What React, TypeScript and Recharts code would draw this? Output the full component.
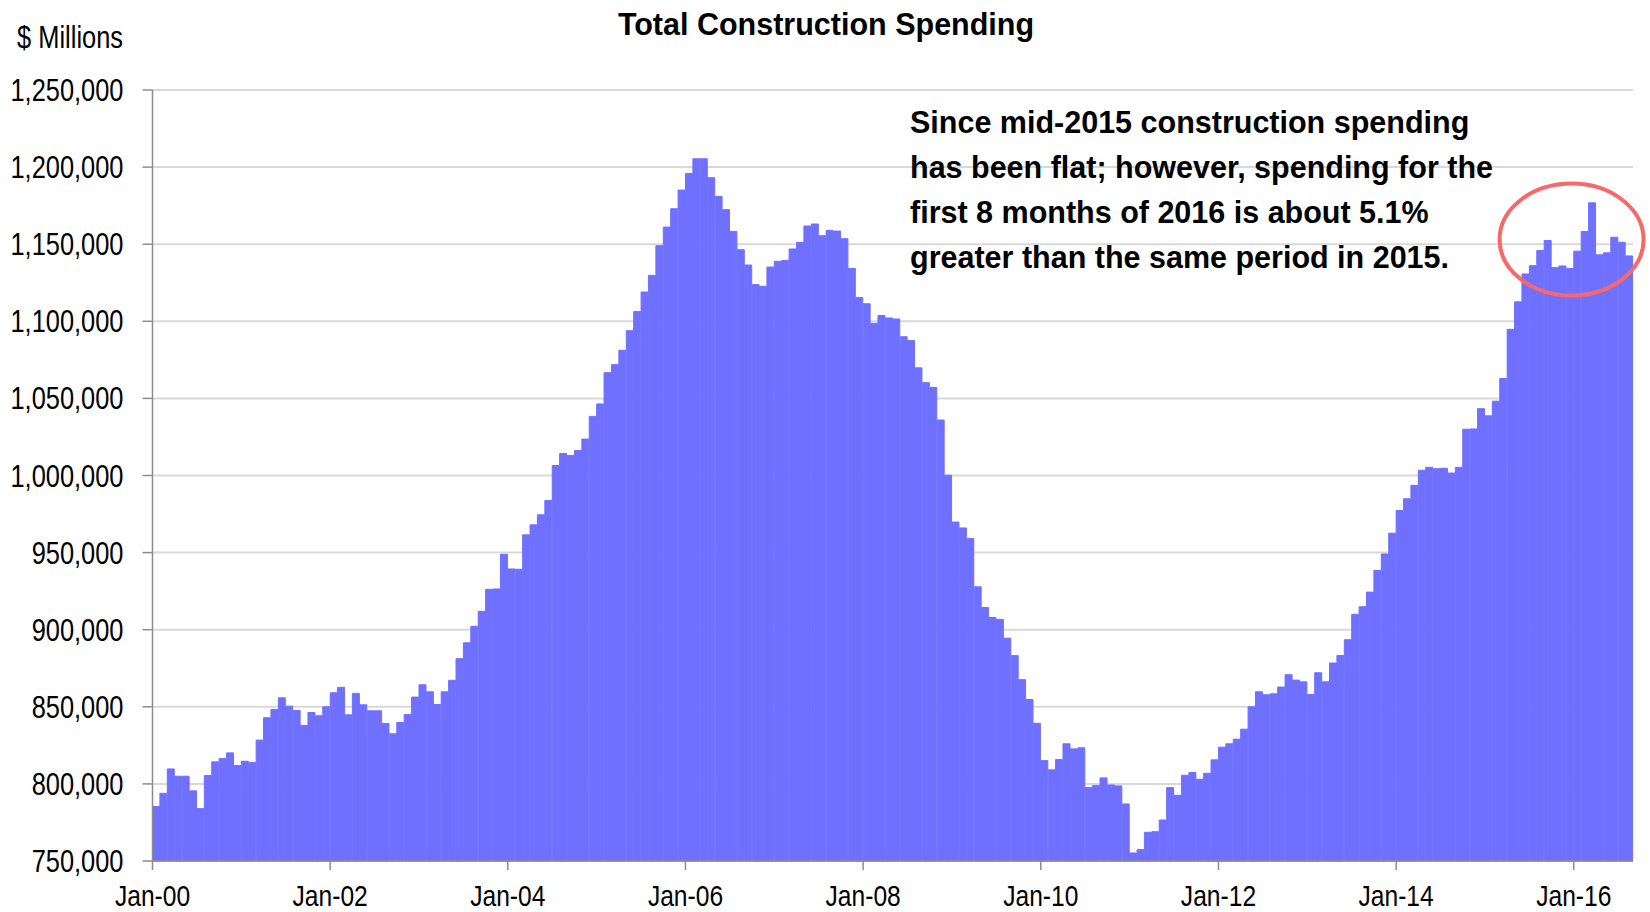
import { BarChart, Bar, XAxis, YAxis, CartesianGrid, ReferenceDot } from "recharts"

// monthly total construction spending, $ millions (SAAR), Jan-2000 .. Aug-2016
const SPENDING_2000 = [785300, 793900, 809700, 805000, 805000, 795500, 784000, 805400, 814300, 816400, 820100, 811900]
const SPENDING_2001 = [814700, 813900, 828400, 842900, 848300, 855800, 850400, 847600, 837900, 846300, 844200, 850000]
const SPENDING_2002 = [859100, 862600, 844800, 858700, 851300, 847400, 847400, 839200, 832500, 839800, 845000, 856300]
const SPENDING_2003 = [864300, 859700, 851500, 859700, 867200, 881200, 891500, 902200, 911900, 926200, 926400, 948900]
const SPENDING_2004 = [939400, 939200, 961500, 968000, 974500, 983800, 1006500, 1014300, 1013000, 1016200, 1023600, 1038300]
const SPENDING_2005 = [1046400, 1066700, 1071900, 1081200, 1093900, 1106300, 1119000, 1129800, 1149000, 1161100, 1173000, 1185100]
const SPENDING_2006 = [1195900, 1205400, 1205400, 1193100, 1181000, 1172400, 1158300, 1146400, 1136500, 1123800, 1122700, 1135200]
const SPENDING_2007 = [1138900, 1139500, 1146900, 1151200, 1161800, 1163100, 1155500, 1159000, 1158500, 1153600, 1134300, 1115500]
const SPENDING_2008 = [1111400, 1098700, 1103700, 1102200, 1101500, 1090000, 1087500, 1069800, 1060200, 1057100, 1036000, 1000200]
const SPENDING_2009 = [969800, 966000, 959200, 927800, 914400, 907900, 906700, 894500, 883200, 867600, 854700, 839300]
const SPENDING_2010 = [815100, 809100, 815800, 826000, 822700, 823400, 797600, 798900, 803900, 799300, 798700, 787000]
const SPENDING_2011 = [755200, 757400, 768600, 769000, 776600, 797600, 792600, 805600, 807400, 803000, 806900, 815600]
const SPENDING_2012 = [823800, 826000, 829000, 835500, 850000, 859700, 857800, 858400, 862800, 870800, 867300, 866200]
const SPENDING_2013 = [858000, 872100, 866200, 878400, 883300, 893500, 910000, 914900, 924400, 938500, 949100, 962600]
const SPENDING_2014 = [977300, 984900, 993600, 1003400, 1005300, 1004400, 1004700, 1001600, 1005300, 1030000, 1030200, 1043300]
const SPENDING_2015 = [1038700, 1048200, 1062900, 1094800, 1112600, 1130700, 1136100, 1145900, 1152400, 1134800, 1135900, 1134200]
const SPENDING_2016 = [1145500, 1158200, 1176800, 1143100, 1144400, 1154500, 1151300, 1142400]

const YEARS = ["00", "01", "02", "03", "04", "05", "06", "07", "08", "09", "10", "11", "12", "13", "14", "15", "16"]
const MONTHS = ["Jan", "Feb", "Mar", "Apr", "May", "Jun", "Jul", "Aug", "Sep", "Oct", "Nov", "Dec"]
const X_TICK_LABELS = ["Jan-00", "Jan-02", "Jan-04", "Jan-06", "Jan-08", "Jan-10", "Jan-12", "Jan-14", "Jan-16"]
const Y_TICKS = [750000, 800000, 850000, 900000, 950000, 1000000, 1050000, 1100000, 1150000, 1200000, 1250000]

const NOTE_LINES = [
  "Since mid-2015 construction spending",
  "has been flat; however, spending for the",
  "first 8 months of 2016 is about 5.1%",
  "greater than the same period in 2015.",
]

const BY_YEAR = [
  SPENDING_2000, SPENDING_2001, SPENDING_2002, SPENDING_2003, SPENDING_2004, SPENDING_2005,
  SPENDING_2006, SPENDING_2007, SPENDING_2008, SPENDING_2009, SPENDING_2010, SPENDING_2011,
  SPENDING_2012, SPENDING_2013, SPENDING_2014, SPENDING_2015, SPENDING_2016,
]

const data = BY_YEAR.flatMap((values, y) =>
  values.map((value, m) => ({ month: `${MONTHS[m]}-${YEARS[y]}`, value }))
).map((row, idx) => ({ ...row, idx }))

const categories = data.map((d) => d.month)
const xTickPositions = X_TICK_LABELS.map((label) => categories.indexOf(label))

const FONT = "'Liberation Sans', Arial, Helvetica, sans-serif"
const NARROW = 0.82 // the original uses Arial Narrow
const BAR_COLOR = "#7070ff"
const AXIS_COLOR = "#8c8c8c"

const fmt = (v: number) => v.toLocaleString("en-US")

function YTick({ x, y, payload }: any) {
  return (
    <g transform={`translate(${x},${y})`}>
      <text transform={`scale(${NARROW},1)`} textAnchor="end" dy="0.355em" fontSize={31} fontFamily={FONT} fill="#000">
        {fmt(payload.value)}
      </text>
    </g>
  )
}

function XTick({ x, y, payload }: any) {
  return (
    <g transform={`translate(${x},${y})`}>
      <text transform={`scale(${NARROW},1)`} textAnchor="middle" dy="0.71em" fontSize={30} fontFamily={FONT} fill="#000">
        {categories[payload.value]}
      </text>
    </g>
  )
}

function Ring({ cx, cy }: any) {
  return <ellipse cx={cx} cy={cy} rx={72} ry={56} fill="none" stroke="#f86868" strokeWidth={4} />
}

export default function App() {
  return (
    <div style={{ position: "relative", width: 1650, height: 912, background: "#fff" }}>
      <style>{"body{margin:0}"}</style>
      <BarChart
        width={1650}
        height={912}
        data={data}
        barCategoryGap={0}
        barGap={0}
        margin={{ top: 90, right: 17, bottom: 0, left: 0 }}
      >
        <CartesianGrid xAxisId="time" vertical={false} stroke="#d9d9d9" strokeWidth={2} />
        {/* band axis for the bars only; the visible axis below puts ticks on the month boundaries */}
        <XAxis xAxisId="cat" dataKey="month" orientation="top" height={0} hide />
        <XAxis
          xAxisId="time"
          type="number"
          dataKey="idx"
          domain={[0, data.length]}
          allowDataOverflow
          ticks={xTickPositions}
          interval={0}
          height={51}
          tickSize={9}
          tickMargin={15}
          tick={<XTick />}
          axisLine={{ stroke: AXIS_COLOR, strokeWidth: 1.5 }}
          tickLine={{ stroke: AXIS_COLOR, strokeWidth: 1.5 }}
        />
        <YAxis
          domain={[750000, 1250000]}
          ticks={Y_TICKS}
          interval={0}
          width={152.5}
          tickSize={10}
          tickMargin={19}
          tick={<YTick />}
          axisLine={{ stroke: AXIS_COLOR, strokeWidth: 1.5 }}
          tickLine={{ stroke: AXIS_COLOR, strokeWidth: 1.5 }}
        />
        <Bar
          xAxisId="cat"
          dataKey="value"
          fill={BAR_COLOR}
          stroke={BAR_COLOR}
          strokeWidth={1}
          isAnimationActive={false}
        />
        <ReferenceDot xAxisId="time" x={191.7} y={1153000} ifOverflow="visible" shape={<Ring />} />
      </BarChart>
      <svg width={1650} height={912} style={{ position: "absolute", left: 0, top: 0, pointerEvents: "none" }}>
        <text x={826} y={35} textAnchor="middle" fontSize={30.5} fontWeight="bold" fontFamily={FONT} fill="#000">
          Total Construction Spending
        </text>
        <g transform="translate(123,48)">
          <text transform={`scale(${NARROW},1)`} textAnchor="end" fontSize={31} fontFamily={FONT} fill="#000">
            $ Millions
          </text>
        </g>
        {NOTE_LINES.map((line, i) => (
          <text key={i} x={910} y={133 + i * 45} fontSize={30.5} fontWeight="bold" fontFamily={FONT} fill="#000">
            {line}
          </text>
        ))}
      </svg>
    </div>
  )
}
